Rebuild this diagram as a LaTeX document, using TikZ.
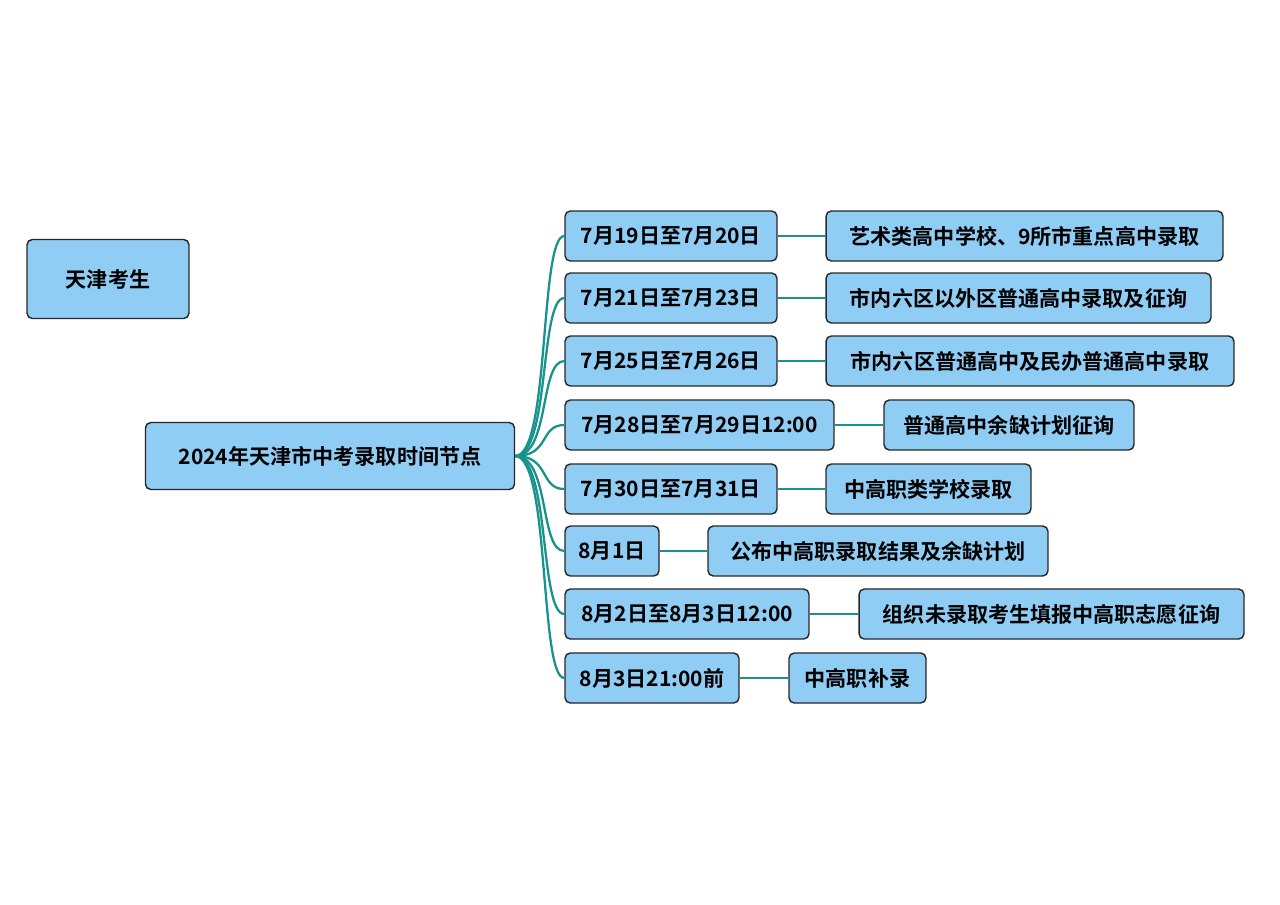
\documentclass[tikz,border=0pt]{standalone}
\usepackage{fontspec}
\setmainfont{Noto Sans CJK SC}[BoldFont={Noto Sans CJK SC Bold}]
\usetikzlibrary{positioning}
\definecolor{boxblue}{HTML}{8FCDF4}
\definecolor{teal}{HTML}{17938C}
\tikzset{%
        box/.style = {draw = black!85, fill = boxblue, rounded corners = 3pt,
                      line width = 0.8pt, minimum height = 1cm, inner sep = 0pt,
                      font = \bfseries\fontsize{12pt}{14pt}\selectfont},
        link/.style = {draw = teal, line width = 1.3pt}
}

\begin{document}
\begin{tikzpicture}[x=0.02cm,y=-0.02cm]
        \useasboundingbox (0,0) rectangle (1280,904);
        \node[box, minimum width=3.24cm, minimum height=1.58cm] (top) at (108,279) {天津考生};
        \node[box, minimum width=7.38cm, minimum height=1.34cm] (root) at (330,456) {2024年天津市中考录取时间节点};
        % dates
        \node[box, minimum width=4.24cm] (d1) at (671,236) {7月19日至7月20日};
        \node[box, minimum width=4.24cm] (d2) at (671,298) {7月21日至7月23日};
        \node[box, minimum width=4.24cm] (d3) at (671,361) {7月25日至7月26日};
        \node[box, minimum width=5.38cm] (d4) at (699.5,425) {7月28日至7月29日12:00};
        \node[box, minimum width=4.24cm] (d5) at (671,489) {7月30日至7月31日};
        \node[box, minimum width=1.88cm] (d6) at (612,551) {8月1日};
        \node[box, minimum width=4.88cm] (d7) at (687,614) {8月2日至8月3日12:00};
        \node[box, minimum width=3.48cm] (d8) at (652,678) {8月3日21:00前};
        % events
        \node[box, minimum width=7.94cm] (e1) at (1024.5,236) {艺术类高中学校、9所市重点高中录取};
        \node[box, minimum width=7.70cm] (e2) at (1018.5,298) {市内六区以外区普通高中录取及征询};
        \node[box, minimum width=8.16cm] (e3) at (1030,361) {市内六区普通高中及民办普通高中录取};
        \node[box, minimum width=5.00cm] (e4) at (1009,425) {普通高中余缺计划征询};
        \node[box, minimum width=4.10cm] (e5) at (928.5,489) {中高职类学校录取};
        \node[box, minimum width=6.80cm] (e6) at (878,551) {公布中高职录取结果及余缺计划};
        \node[box, minimum width=7.70cm] (e7) at (1051.5,614) {组织未录取考生填报中高职志愿征询};
        \node[box, minimum width=2.74cm] (e8) at (857.5,678) {中高职补录};
        \foreach \i in {1,...,8}{
          \path[link] (root.east) .. controls +(35,0) and +(-25,0) .. (d\i.west);
          \path[link] (d\i.east) -- (e\i.west);
        }
\end{tikzpicture}
\end{document}
